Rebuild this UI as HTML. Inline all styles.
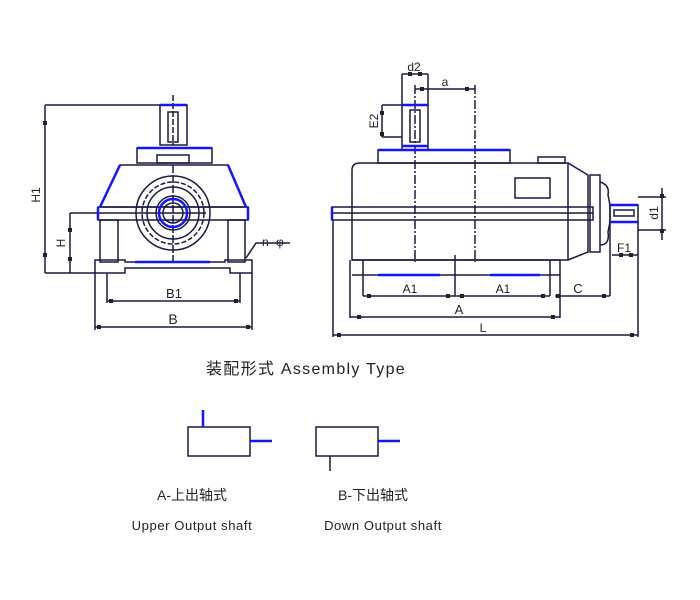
<!DOCTYPE html>
<html><head><meta charset="utf-8"><style>
html,body{margin:0;padding:0;background:#fff}
svg{display:block}
text{font-family:"Liberation Sans","Noto Sans CJK SC",sans-serif;fill:#222}
</style></head><body>
<svg width="700" height="600" viewBox="0 0 700 600" xmlns="http://www.w3.org/2000/svg">
<g fill="none" stroke="#1a1a40" stroke-width="1.5">
<line x1="45" y1="105" x2="163" y2="105"/>
<line x1="45" y1="105" x2="45" y2="273"/>
<line x1="45" y1="273" x2="95" y2="273"/>
<rect x="160" y="105" width="27" height="40"/>
<line x1="173" y1="95" x2="173" y2="145" stroke-dasharray="6,2"/>
<rect x="168" y="112" width="10" height="30"/>
<rect x="137" y="148" width="75" height="15"/>
<rect x="157" y="155" width="32" height="8"/>
<path d="M120 165 L228 165 L246 207 L100 207 Z"/>
<rect x="98" y="207" width="150" height="13"/>
<rect x="100" y="220" width="18" height="42"/>
<rect x="228" y="220" width="17" height="42"/>
<path d="M95 260 L125 260 L125 262 L225 262 L225 260 L252 260 L252 273 L230 273 L230 268 L125 268 L125 273 L95 273 Z"/>
<circle cx="173" cy="213" r="37"/>
<circle cx="173" cy="213" r="31" stroke-dasharray="5,2"/>
<circle cx="173" cy="213" r="26"/>
<circle cx="173" cy="213" r="17"/>
<circle cx="173" cy="213" r="10"/>
<line x1="173" y1="165" x2="173" y2="262" stroke-dasharray="8,2"/>
<line x1="140" y1="213" x2="206" y2="213"/>
<line x1="70" y1="213" x2="140" y2="213"/>
<line x1="70" y1="213" x2="70" y2="273"/>
<line x1="107" y1="273" x2="107" y2="303"/>
<line x1="240" y1="273" x2="240" y2="303"/>
<line x1="107" y1="301" x2="240" y2="301"/>
<line x1="95" y1="273" x2="95" y2="330"/>
<line x1="252" y1="273" x2="252" y2="330"/>
<line x1="95" y1="327" x2="252" y2="327"/>
<path d="M246 258 L256 243 L290 243"/>
<path d="M352 170 Q352 163 360 163 L568 163 L568 260 L352 260 Z"/>
<rect x="378" y="150" width="132" height="13"/>
<rect x="538" y="157" width="27" height="6"/>
<rect x="515" y="178" width="35" height="20"/>
<rect x="402" y="105" width="26" height="45"/>
<rect x="410" y="110" width="10" height="32"/>
<path d="M568 163 L588 175 L588 252 L568 260"/>
<rect x="590" y="175" width="10" height="77"/>
<path d="M600 182 Q610 185 608 195 L610 205 L610 222 L608 232 Q610 245 600 245"/>
<rect x="610" y="205" width="28" height="17"/>
<rect x="614" y="210" width="20" height="6"/>
<rect x="332" y="207" width="261" height="13"/>
<line x1="332" y1="213" x2="593" y2="213"/>
<line x1="415" y1="85" x2="415" y2="262" stroke-dasharray="9,2,2,2"/>
<line x1="475" y1="85" x2="475" y2="262" stroke-dasharray="9,2,2,2"/>
<line x1="402" y1="74" x2="428" y2="74"/>
<line x1="402" y1="74" x2="402" y2="105"/>
<line x1="428" y1="74" x2="428" y2="105"/>
<line x1="415" y1="89" x2="475" y2="89"/>
<line x1="382" y1="105" x2="402" y2="105"/>
<line x1="382" y1="137" x2="402" y2="137"/>
<line x1="382" y1="105" x2="382" y2="137"/>
<line x1="352" y1="260" x2="560" y2="260"/>
<line x1="352" y1="275" x2="560" y2="275"/>
<line x1="363" y1="260" x2="363" y2="296"/>
<line x1="455" y1="255" x2="455" y2="296"/>
<line x1="550" y1="260" x2="550" y2="296"/>
<line x1="363" y1="296" x2="550" y2="296"/>
<line x1="555" y1="296" x2="610" y2="296"/>
<line x1="610" y1="222" x2="610" y2="296"/>
<line x1="350" y1="260" x2="350" y2="318"/>
<line x1="560" y1="260" x2="560" y2="318"/>
<line x1="350" y1="317" x2="560" y2="317"/>
<line x1="333" y1="220" x2="333" y2="337"/>
<line x1="638" y1="222" x2="638" y2="337"/>
<line x1="333" y1="335" x2="638" y2="335"/>
<line x1="612" y1="255" x2="638" y2="255"/>
<line x1="638" y1="197" x2="666" y2="197"/>
<line x1="638" y1="230" x2="666" y2="230"/>
<line x1="662" y1="188" x2="662" y2="240"/>
<rect x="188" y="427" width="62" height="29"/>
<rect x="316" y="427" width="62" height="29"/>
<line x1="330" y1="456" x2="330" y2="471"/>
</g>
<g fill="#222">
<rect x="43" y="121" width="4" height="4"/><rect x="43" y="253" width="4" height="4"/>
<rect x="68" y="228" width="4" height="4"/><rect x="68" y="257" width="4" height="4"/>
<rect x="109" y="299" width="4" height="4"/><rect x="234" y="299" width="4" height="4"/>
<rect x="97" y="325" width="4" height="4"/><rect x="246" y="325" width="4" height="4"/>
<rect x="408" y="72" width="4" height="4"/><rect x="418" y="72" width="4" height="4"/>
<rect x="420" y="87" width="4" height="4"/><rect x="465" y="87" width="4" height="4"/>
<rect x="380" y="111" width="4" height="4"/><rect x="380" y="132" width="4" height="4"/>
<rect x="367" y="294" width="4" height="4"/><rect x="446" y="294" width="4" height="4"/><rect x="460" y="294" width="4" height="4"/><rect x="541" y="294" width="4" height="4"/>
<rect x="556" y="294" width="4" height="4"/><rect x="602" y="294" width="4" height="4"/>
<rect x="357" y="315" width="4" height="4"/><rect x="551" y="315" width="4" height="4"/>
<rect x="337" y="333" width="4" height="4"/><rect x="630" y="333" width="4" height="4"/>
<rect x="660" y="194" width="4" height="4"/><rect x="660" y="229" width="4" height="4"/>
<rect x="619" y="253" width="4" height="4"/><rect x="629" y="253" width="4" height="4"/>
</g>
<g stroke="#1414ff" stroke-width="2.5" fill="none">
<line x1="160" y1="105" x2="187" y2="105"/>
<line x1="137" y1="148" x2="212" y2="148"/>
<line x1="120" y1="165" x2="100" y2="207"/>
<line x1="228" y1="165" x2="246" y2="207"/>
<line x1="98" y1="207" x2="98" y2="220"/>
<line x1="248" y1="207" x2="248" y2="220"/>
<line x1="135" y1="262" x2="210" y2="262"/>
<line x1="402" y1="105" x2="428" y2="105"/>
<line x1="402" y1="146" x2="428" y2="146"/>
<line x1="378" y1="150" x2="510" y2="150"/>
<line x1="332" y1="207" x2="332" y2="220"/>
<line x1="610" y1="205" x2="638" y2="205"/>
<line x1="610" y1="222" x2="638" y2="222"/>
<line x1="378" y1="275" x2="440" y2="275"/>
<line x1="490" y1="275" x2="540" y2="275"/>
<line x1="203" y1="410" x2="203" y2="427"/>
<line x1="250" y1="441" x2="272" y2="441"/>
<line x1="378" y1="441" x2="400" y2="441"/>
<circle cx="173" cy="213" r="14"/>
</g>
<g fill="#222" font-size="12">
<text x="40" y="195" transform="rotate(-90 40 195)" text-anchor="middle">H1</text>
<text x="65" y="243" transform="rotate(-90 65 243)" text-anchor="middle">H</text>
<text x="174" y="298" text-anchor="middle" font-size="13">B1</text>
<text x="173" y="324" text-anchor="middle" font-size="14">B</text>
<text x="262" y="246">n- φ</text>
<text x="414" y="71" text-anchor="middle">d2</text>
<text x="445" y="86" text-anchor="middle">a</text>
<text x="378" y="121" transform="rotate(-90 378 121)" text-anchor="middle">E2</text>
<text x="410" y="293" text-anchor="middle">A1</text>
<text x="503" y="293" text-anchor="middle">A1</text>
<text x="578" y="293" text-anchor="middle" font-size="13">C</text>
<text x="459" y="314" text-anchor="middle" font-size="13">A</text>
<text x="483" y="332" text-anchor="middle">L</text>
<text x="624" y="252" text-anchor="middle">F1</text>
<text x="658" y="213" transform="rotate(-90 658 213)" text-anchor="middle">d1</text>
<text x="306" y="374" text-anchor="middle" font-size="16" letter-spacing="1.3">装配形式 Assembly Type</text>
<text x="192" y="500" text-anchor="middle" font-size="14">A-上出轴式</text>
<text x="373" y="500" text-anchor="middle" font-size="14">B-下出轴式</text>
<text x="192" y="530" text-anchor="middle" font-size="13" letter-spacing="0.6">Upper Output shaft</text>
<text x="383" y="530" text-anchor="middle" font-size="13" letter-spacing="0.6">Down Output shaft</text>
</g>
</svg>
</body></html>
